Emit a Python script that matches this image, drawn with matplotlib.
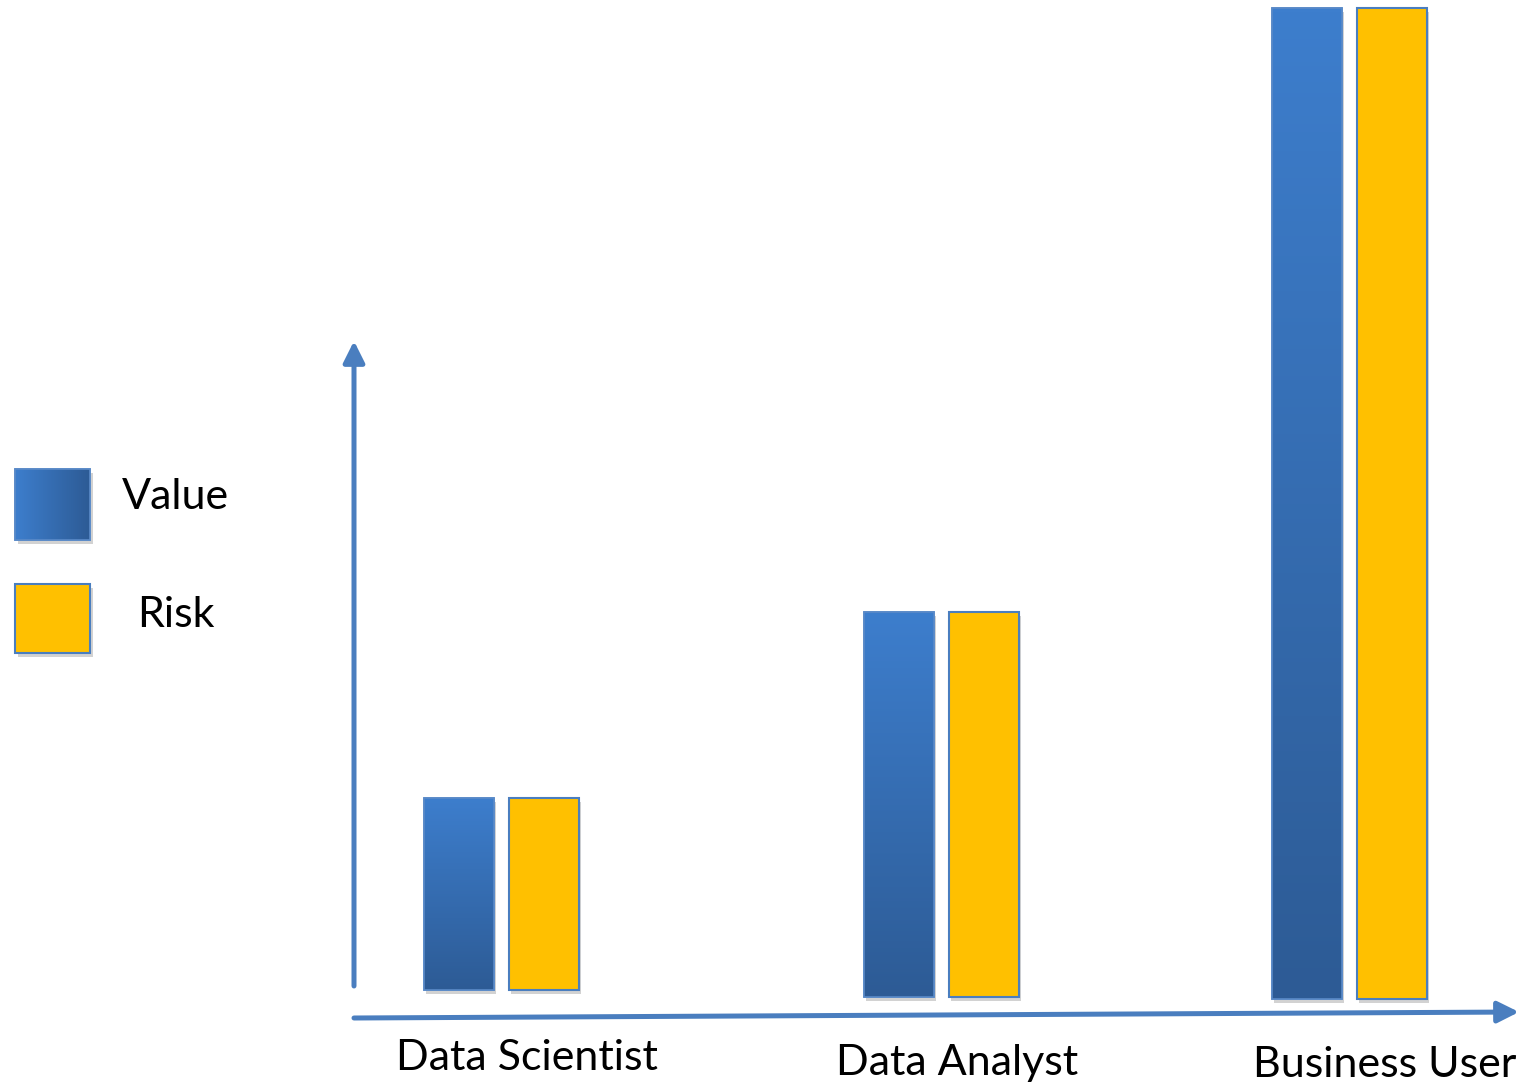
import numpy as np
import matplotlib
matplotlib.use("Agg")
import matplotlib.pyplot as plt
from matplotlib.patches import Rectangle
import matplotlib.patheffects as pe

plt.rcParams['font.family'] = ['Lato', 'DejaVu Sans']

categories = ['Data Scientist', 'Data Analyst', 'Business User']
value = [19.5, 39.0, 100.4]
risk = [19.5, 39.0, 100.4]
base = [0.5, -0.2, -0.4]
series_names = ['Value', 'Risk']

W, H = 1524, 1087
group_x = [501, 941, 1349]      # group centres (px across the figure)
bar_w = 70
gap = 15
edge = '#4a7ebf'
yellow = '#ffc000'

fig = plt.figure(figsize=(W / 100, H / 100), dpi=100)

# data axes spanning the whole figure; y = 0 lands on pixel row 995, y = 100 on row 8
y0_px, y100_px = 995, 8
ppu = (y0_px - y100_px) / 100
ax = fig.add_axes([0, 0, 1, 1])
ax.set_axis_off()

shadow = [pe.SimplePatchShadow(offset=(2, -3), shadow_rgbFace='#808080', alpha=0.35), pe.Normal()]

grad_v = np.linspace(0, 1, 256).reshape(-1, 1)
blue_cmap = matplotlib.colors.LinearSegmentedColormap.from_list('b', ['#2d5b95', '#3d7ecd'])

for gx, v, r, b0 in zip(group_x, value, risk, base):
    xb = gx - gap / 2 - bar_w
    xr = gx + gap / 2
    b = Rectangle((xb, b0), bar_w, v, facecolor='#3a74bd', edgecolor='#5a8ac8',
                  lw=1.2, path_effects=shadow, zorder=2)
    ax.add_patch(b)
    im = ax.imshow(grad_v, cmap=blue_cmap, extent=(xb, xb + bar_w, b0, b0 + v),
                   origin='lower', aspect='auto', zorder=3)
    im.set_clip_path(b)
    ax.add_patch(Rectangle((xb, b0), bar_w, v, facecolor='none', edgecolor='#5a8ac8', lw=1.2, zorder=4))
    ax.add_patch(Rectangle((xr, b0), bar_w, r, facecolor=yellow, edgecolor=edge,
                           lw=1.5, path_effects=shadow, zorder=2))

ax.set_xlim(0, W)
ax.set_ylim(-(H - y0_px) / ppu, y0_px / ppu)

# overlay in pixel coordinates for arrows, legend and labels
ov = fig.add_axes([0, 0, 1, 1])
ov.set_axis_off()

arrow = dict(arrowstyle='-|>,head_length=0.8,head_width=0.4', lw=3.6, color=edge,
             mutation_scale=16, shrinkA=0, shrinkB=0)
ov.annotate('', xy=(354, 341), xytext=(354, 986), arrowprops=arrow)
ov.annotate('', xy=(1519, 1012), xytext=(354, 1018), arrowprops=arrow)

# legend swatches
grad_h = np.linspace(1, 0, 256).reshape(1, -1)
sw = Rectangle((15, 469), 75, 71, facecolor='#3a74bd', edgecolor='#5a8ac8', lw=1.2,
               path_effects=shadow)
ov.add_patch(sw)
im = ov.imshow(grad_h, cmap=blue_cmap, extent=(15, 90, 540, 469), aspect='auto', zorder=3)
im.set_clip_path(sw)
ov.add_patch(Rectangle((15, 469), 75, 71, facecolor='none', edgecolor='#5a8ac8', lw=1.2, zorder=4))
ov.add_patch(Rectangle((15, 584), 75, 69, facecolor=yellow, edgecolor=edge, lw=1.5,
                       path_effects=shadow))
ov.set_xlim(0, W)
ov.set_ylim(H, 0)

ov.text(175, 497, series_names[0], fontsize=31, ha='center', va='center')
ov.text(176, 615, series_names[1], fontsize=31, ha='center', va='center')

label_y = [1058, 1063, 1065]
label_x = [527, 957, 1385]
for lx, ly, c in zip(label_x, label_y, categories):
    ov.text(lx, ly, c, fontsize=31, ha='center', va='center')

fig.savefig('out.png', dpi=100)
